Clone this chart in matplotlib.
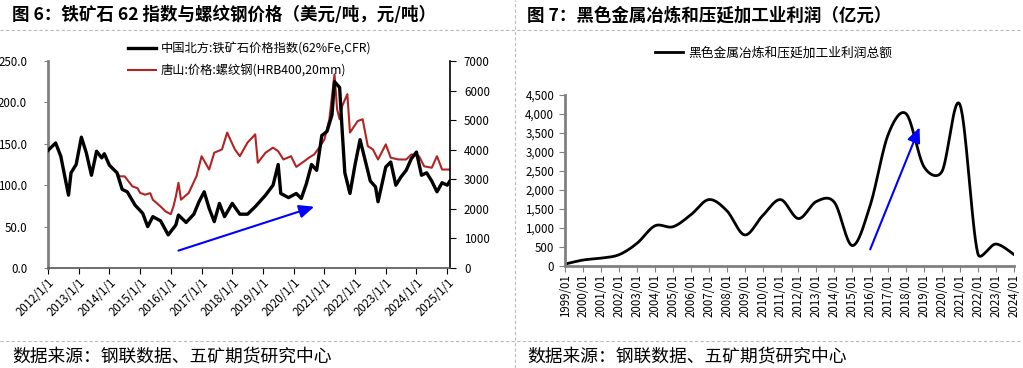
import numpy as np
import pandas as pd
import matplotlib
matplotlib.use('Agg')
import matplotlib.pyplot as plt

plt.rcParams['font.family'] = ['Noto Sans CJK SC', 'DejaVu Sans']
plt.rcParams['axes.unicode_minus'] = False

# ---- data: figure 6 (iron ore 62% index, USD/t; Tangshan rebar, CNY/t)
ore_dates = ['2012-01', '2012-04', '2012-06', '2012-09', '2012-10', '2012-12',
             '2013-02', '2013-04', '2013-06', '2013-08', '2013-10', '2013-11',
             '2014-01', '2014-04', '2014-06', '2014-08', '2014-11', '2015-02',
             '2015-04', '2015-06', '2015-09', '2015-12', '2016-03', '2016-04',
             '2016-07', '2016-10', '2016-12', '2017-02', '2017-04', '2017-06',
             '2017-08', '2017-10', '2018-01', '2018-04', '2018-07', '2018-10',
             '2019-02', '2019-05', '2019-07', '2019-08', '2019-11', '2020-02',
             '2020-04', '2020-06', '2020-08', '2020-10', '2020-12', '2021-02',
             '2021-04', '2021-05', '2021-07', '2021-08', '2021-09', '2021-11',
             '2022-01', '2022-03', '2022-05', '2022-07', '2022-09', '2022-10',
             '2023-01', '2023-03', '2023-05', '2023-07', '2023-09', '2023-11',
             '2024-01', '2024-03', '2024-05', '2024-07', '2024-09', '2024-11',
             '2025-01', '2025-02']
ore_price = [142, 151, 135, 88, 115, 125,
             158, 139, 112, 141, 133, 138,
             124, 115, 95, 92, 76, 66,
             50, 62, 57, 40, 52, 64,
             55, 65, 80, 92, 72, 56,
             78, 62, 78, 65, 65, 74,
             88, 100, 125, 90, 85, 90,
             84, 102, 125, 118, 160, 165,
             185, 225, 218, 165, 115, 90,
             125, 155, 130, 105, 98, 80,
             122, 128, 100, 110, 118, 132,
             140, 112, 115, 105, 92, 103,
             100, 105]

rebar_dates = ['2014-04', '2014-05', '2014-07', '2014-10', '2014-12', '2015-01',
               '2015-03', '2015-05', '2015-06', '2015-09', '2015-11', '2016-01',
               '2016-02', '2016-03', '2016-04', '2016-05', '2016-08', '2016-11',
               '2017-01', '2017-04', '2017-06', '2017-09', '2017-11', '2018-02',
               '2018-04', '2018-07', '2018-10', '2018-11', '2019-02', '2019-05',
               '2019-07', '2019-09', '2019-12', '2020-02', '2020-05', '2020-07',
               '2020-09', '2020-11', '2021-01', '2021-03', '2021-05', '2021-06',
               '2021-07', '2021-08', '2021-10', '2021-11', '2022-02', '2022-04',
               '2022-06', '2022-08', '2022-10', '2023-01', '2023-03', '2023-06',
               '2023-09', '2023-11', '2024-02', '2024-04', '2024-07', '2024-09',
               '2024-11', '2025-02']
rebar_price = [3220, 3100, 3100, 2760, 2700, 2540,
               2480, 2530, 2310, 2080, 1910, 1820,
               2080, 2420, 2880, 2310, 2540, 3100,
               3780, 3330, 3900, 4010, 4580, 4010,
               3780, 4240, 4520, 3560, 3900, 4070,
               3950, 3670, 3780, 3420, 3600, 3730,
               3840, 4070, 4350, 5030, 6550, 5370,
               5030, 5480, 5880, 4580, 4970, 5030,
               4120, 4010, 3670, 4180, 3730, 3670,
               3670, 3840, 3780, 3440, 3390, 3780,
               3330, 3330]

arrow6_from = ('2016-04', 21)
arrow6_to = ('2020-09', 74)

# ---- data: figure 7 (ferrous smelting & rolling profit, 100m CNY)
years = list(range(1999, 2025))
profit = [44, 150, 200, 290, 590, 1050, 1025, 1340, 1740, 1450, 810, 1315,
          1740, 1240, 1690, 1670, 530, 1590, 3450, 4000, 2600, 2480, 4240,
          320, 570, 300]

arrow7_from = (2016.0, 430)
arrow7_to = (2018.75, 3640)


def smooth_line(x, y, sx, sy, n=30):
    # bezier "smoothed line": tangent (P[i+1]-P[i-1])/6, each side capped
    # at half of its own chord (worked out in screen units)
    P = np.column_stack([np.asarray(x, float) * sx, np.asarray(y, float) * sy])
    m = len(P)
    c_out = P.copy()
    c_in = P.copy()
    for i in range(m):
        a = P[i - 1] if i > 0 else P[i]
        b = P[i + 1] if i < m - 1 else P[i]
        tan = (b - a) / 6
        tl = np.hypot(*tan)
        if tl == 0:
            continue
        d_in = np.hypot(*(P[i] - a))
        d_out = np.hypot(*(b - P[i]))
        c_out[i] = P[i] + tan * min(1, 0.5 * d_out / tl)
        c_in[i] = P[i] - tan * min(1, 0.5 * d_in / tl)
    t = np.linspace(0, 1, n, endpoint=False)[:, None]
    segs = []
    for i in range(m - 1):
        p0, p1, p2, p3 = P[i], c_out[i], c_in[i + 1], P[i + 1]
        segs.append((1 - t) ** 3 * p0 + 3 * (1 - t) ** 2 * t * p1
                    + 3 * (1 - t) * t ** 2 * p2 + t ** 3 * p3)
    segs.append(P[-1:])
    out = np.vstack(segs)
    return out[:, 0] / sx, out[:, 1] / sy


W, H = 1023, 368
fig = plt.figure(figsize=(W / 100, H / 100), dpi=100)

grey = '#808080'
tick_fs = 8.3

# ---------------- left panel ----------------
ax = fig.add_axes([48 / W, 1 - 268 / H, (450 - 48) / W, (268 - 61) / H])
ax2 = ax.twinx()

od = pd.to_datetime(ore_dates)
rd = pd.to_datetime(rebar_dates)
l1, = ax.plot(od, ore_price, color='black', lw=2.4, zorder=3)
l2, = ax2.plot(rd, rebar_price, color='#B22424', lw=1.5, zorder=2)
ax.set_zorder(ax2.get_zorder() + 1)
ax.patch.set_visible(False)

ax.set_ylim(0, 250)
ax.set_yticks(np.arange(0, 251, 50))
ax.set_yticklabels([f'{v:.1f}' for v in np.arange(0, 251, 50)])
ax2.set_ylim(0, 7000)
ax2.set_yticks(np.arange(0, 7001, 1000))

x0, x1 = pd.Timestamp('2012-01-01'), pd.Timestamp('2025-02-03')
ax.set_xlim(x0, x1)
ticks = pd.date_range('2012-01-01', '2025-01-01', freq='YS')
ax.set_xticks(ticks)
ax.set_xticklabels([f'{t.year}/1/1' for t in ticks], rotation=45, ha='right',
                   rotation_mode='anchor')

for a in (ax, ax2):
    a.spines['top'].set_visible(False)
ax.spines['right'].set_visible(False)
ax2.spines['left'].set_visible(False)
ax2.spines['bottom'].set_visible(False)
ax.spines['left'].set_color(grey)
ax.spines['left'].set_linewidth(2)
ax.spines['bottom'].set_color('#555555')
ax.spines['bottom'].set_linewidth(1.2)
ax2.spines['right'].set_color('black')
ax2.spines['right'].set_linewidth(1.2)
ax.tick_params(axis='y', length=3, pad=12, labelsize=tick_fs, color=grey)
ax.tick_params(axis='x', length=4, pad=2, labelsize=tick_fs)
ax2.tick_params(axis='y', length=4, pad=6, labelsize=tick_fs)

ax.annotate('', xy=(pd.Timestamp(arrow6_to[0]), arrow6_to[1]),
            xytext=(pd.Timestamp(arrow6_from[0]), arrow6_from[1]),
            arrowprops=dict(arrowstyle='-|>,head_length=0.9,head_width=0.4',
                            color='blue', lw=1.5, shrinkA=0, shrinkB=0))

fig.legend([l1, l2], ['中国北方:铁矿石价格指数(62%Fe,CFR)', '唐山:价格:螺纹钢(HRB400,20mm)'],
           loc='upper left', bbox_to_anchor=(128 / W, 1 - 42 / H), frameon=False,
           fontsize=8.8, handlelength=2.3, handletextpad=0.4, labelspacing=0.75,
           borderpad=0, borderaxespad=0)

# ---------------- right panel ----------------
bx = fig.add_axes([565.3 / W, 1 - 265.7 / H, (1013.7 - 565.3) / W, (265.7 - 94.7) / H])
px_per_year = (1013.7 - 565.3) / 25
px_per_unit = (265.7 - 94.7) / 4500
cx, cy = smooth_line(years, profit, px_per_year, px_per_unit)
l3, = bx.plot(cx, cy, color='black', lw=2)
bx.set_xlim(1999, 2024)
bx.set_ylim(0, 4500)
bx.set_yticks(np.arange(0, 4501, 500))
bx.set_yticklabels([f'{v:,}' for v in np.arange(0, 4501, 500)])
bx.set_xticks(years)
bx.set_xticklabels([f'{y}/01' for y in years], rotation=90)
bx.spines['top'].set_visible(False)
bx.spines['right'].set_visible(False)
for s in ('left', 'bottom'):
    bx.spines[s].set_color(grey)
    bx.spines[s].set_linewidth(2)
bx.tick_params(axis='both', length=4, labelsize=tick_fs, color=grey)
bx.tick_params(axis='y', pad=4)
bx.tick_params(axis='x', pad=2)

bx.annotate('', xy=arrow7_to, xytext=arrow7_from,
            arrowprops=dict(arrowstyle='-|>,head_length=0.9,head_width=0.4',
                            color='blue', lw=1.5, shrinkA=0, shrinkB=0))

fig.legend([l3], ['黑色金属冶炼和压延加工业利润总额'], loc='center left',
           bbox_to_anchor=(655 / W, 1 - 53 / H), frameon=False, fontsize=9.2,
           handlelength=2.2, handletextpad=0.4, borderpad=0, borderaxespad=0)

# ---------------- titles, sources, frame lines ----------------
fig.text(12 / W, 1 - 15 / H, '图 6：铁矿石 62 指数与螺纹钢价格（美元/吨，元/吨）',
         fontsize=12.6, fontweight='bold', va='center', ha='left')
fig.text(527 / W, 1 - 15 / H, '图 7：黑色金属冶炼和压延加工业利润（亿元）',
         fontsize=12.6, fontweight='bold', va='center', ha='left')
fig.text(12 / W, 1 - 356 / H, '数据来源：钢联数据、五矿期货研究中心',
         fontsize=12.8, va='center', ha='left')
fig.text(527 / W, 1 - 356 / H, '数据来源：钢联数据、五矿期货研究中心',
         fontsize=12.8, va='center', ha='left')

dash = dict(color='#BBBBBB', lw=0.8, ls=(0, (3, 2)), transform=fig.transFigure)
fig.add_artist(plt.Line2D([0, 1], [1 - 29.5 / H] * 2, **dash))
fig.add_artist(plt.Line2D([0, 1], [1 - 340.5 / H] * 2, **dash))
fig.add_artist(plt.Line2D([515 / W] * 2, [0, 1], **dash))

fig.savefig('out.png', dpi=100)
